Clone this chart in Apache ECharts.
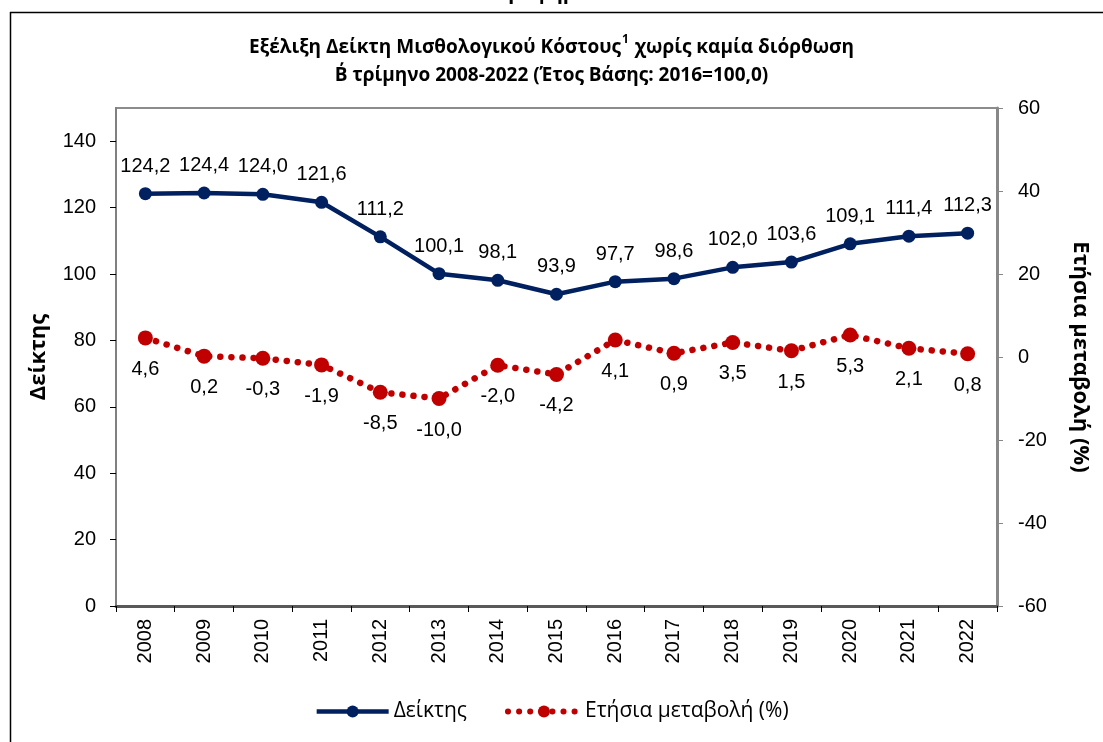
<!DOCTYPE html>
<html>
<head>
<meta charset="utf-8">
<script src="https://cdn.jsdelivr.net/npm/echarts@6/dist/echarts.min.js"></script>
<style>
html,body{margin:0;padding:0;background:#fff;}
#chart{width:1103px;height:742px;}
</style>
</head>
<body>
<div id="chart"></div>
<script>
const years = ['2008','2009','2010','2011','2012','2013','2014','2015','2016','2017','2018','2019','2020','2021','2022'];
const indexValues = [124.2,124.4,124.0,121.6,111.2,100.1,98.1,93.9,97.7,98.6,102.0,103.6,109.1,111.4,112.3];
const changeValues = [4.6,0.2,-0.3,-1.9,-8.5,-10.0,-2.0,-4.2,4.1,0.9,3.5,1.5,5.3,2.1,0.8];
const leftTicks = [0,20,40,60,80,100,120,140];
const rightTicks = [-60,-40,-20,0,20,40,60];
const seriesNames = ['Δείκτης','Ετήσια μεταβολή (%)'];

const chart = echarts.init(document.getElementById('chart'));
const fmt = v => v.toFixed(1).replace('.', ',');
const titleFont = '"Open Sans",sans-serif';
const bodyFont = '"Liberation Sans",Arial,sans-serif';

chart.setOption({
  animation:false,
  backgroundColor:'#fff',
  title:{
    left:'center', top:29,
    text:'{b|Εξέλιξη Δείκτη Μισθολογικού Κόστους}{s|1}{b| χωρίς καμία διόρθωση}\n{b|Β΄ τρίμηνο 2008-2022 (Έτος Βάσης: 2016=100,0)}',
    textStyle:{
      rich:{
        b:{fontFamily:titleFont,fontWeight:'bold',fontSize:19,color:'#000',lineHeight:28},
        s:{fontFamily:titleFont,fontWeight:'bold',fontSize:12,color:'#000',verticalAlign:'top',lineHeight:28,padding:[0,1,8,1]}
      }
    }
  },
  graphic:[
    {type:'line',shape:{x1:10.5,y1:12,x2:10.5,y2:742},style:{stroke:'#000',lineWidth:1.5},silent:true},
    {type:'line',shape:{x1:10,y1:12.5,x2:1103,y2:12.5},style:{stroke:'#000',lineWidth:1.5},silent:true},
    {type:'text',left:'center',top:-17,style:{text:'Γράφημα 1',font:'bold 20px "Open Sans",sans-serif',fill:'#000'},silent:true}
  ],
  legend:{
    bottom:15, left:'center',
    itemWidth:72, itemHeight:15, itemGap:38,
    data:[
      {name:seriesNames[0],lineStyle:{width:4.5}},
      {name:seriesNames[1],lineStyle:{width:6}}
    ],
    textStyle:{fontFamily:'"Open Sans",sans-serif',fontSize:21,color:'#000'}
  },
  grid:{left:116,right:106,top:108,bottom:136,show:true,borderColor:'#8c8c8c',borderWidth:2},
  xAxis:{
    type:'category', data:years, boundaryGap:true,
    axisLine:{lineStyle:{color:'#595959',width:3}},
    axisTick:{show:true,alignWithLabel:false,length:6,lineStyle:{color:'#000',width:1}},
    axisLabel:{rotate:90,fontFamily:bodyFont,fontSize:20,color:'#000',margin:13}
  },
  yAxis:[
    {
      type:'value', min:0, max:150, interval:20, position:'left',
      name:'Δείκτης', nameLocation:'middle', nameGap:66, nameRotate:90,
      nameTextStyle:{fontFamily:'"Open Sans",sans-serif',fontWeight:'bold',fontSize:22,color:'#000'},
      axisLine:{show:true,lineStyle:{color:'#808080',width:2}},
      axisTick:{show:true,length:6,lineStyle:{color:'#000'}},
      axisLabel:{fontFamily:bodyFont,fontSize:20,color:'#000',margin:20,showMaxLabel:false,
        formatter:v=>leftTicks.includes(v)?String(v):''},
      splitLine:{show:false}
    },
    {
      type:'value', min:-60, max:60, interval:20, position:'right',
      name:'Ετήσια μεταβολή (%)', nameLocation:'middle', nameGap:72, nameRotate:-90,
      nameTextStyle:{fontFamily:'"Open Sans",sans-serif',fontWeight:'bold',fontSize:22,color:'#000'},
      axisLine:{show:true,lineStyle:{color:'#888888',width:3}},
      axisTick:{show:true,length:6,lineStyle:{color:'#888888',width:1}},
      axisLabel:{fontFamily:bodyFont,fontSize:20,color:'#000',margin:21,
        formatter:v=>rightTicks.includes(v)?String(v):''},
      splitLine:{show:false}
    }
  ],
  series:[
    {
      name:seriesNames[0], type:'line', data:indexValues, yAxisIndex:0,
      symbol:'circle', symbolSize:13,
      lineStyle:{color:'#002060',width:4.5},
      itemStyle:{color:'#002060'},
      label:{show:true,position:'top',distance:11,formatter:p=>fmt(p.value),
        fontFamily:bodyFont,fontSize:20,color:'#000'},
      z:3
    },
    {
      name:seriesNames[1], type:'line', data:changeValues, yAxisIndex:1,
      symbol:'circle', symbolSize:15,
      lineStyle:{color:'#C00000',width:6.5,type:[0.1,11],cap:'round'},
      itemStyle:{color:'#C00000'},
      label:{show:true,position:'bottom',distance:14,formatter:p=>fmt(p.value),
        fontFamily:bodyFont,fontSize:20,color:'#000'},
      z:2
    }
  ]
});
</script>
</body>
</html>
